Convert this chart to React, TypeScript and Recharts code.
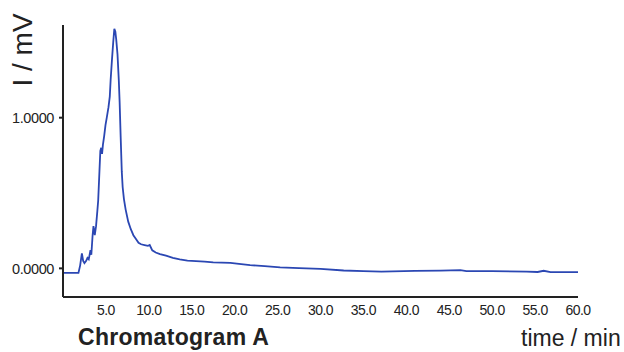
import React from 'react';
import { LineChart, Line, XAxis, YAxis } from 'recharts';

// retention time (min) and detector signal (mV)
const times = [
  0, 1.8, 2.0, 2.2, 2.35, 2.5, 2.7, 2.85, 3.0, 3.2, 3.3, 3.45, 3.55, 3.7, 3.85, 4.0, 4.1, 4.25, 4.35, 4.45,
  4.55, 4.65, 4.8, 4.95, 5.1, 5.3, 5.45, 5.55, 5.7, 5.85, 5.98, 6.1, 6.2, 6.35, 6.5, 6.6, 6.72, 6.85, 6.95,
  7.1, 7.3, 7.6, 7.9, 8.2, 8.5, 8.8, 9.1, 9.5, 9.9, 10.1, 10.4, 10.8, 11.3, 12.0, 12.8, 13.6, 14.5, 15.5,
  16.5, 17.5, 18.5, 19.5, 20.5, 21.8, 23.5, 25.3, 27.5, 30.0, 32.7, 35.0, 37.1, 41.0, 44.0, 46.3, 47.0,
  50.0, 54.0, 55.3, 56.0, 56.8, 60.0,
];
const signal = [
  -0.03, -0.03, 0.02, 0.1, 0.05, 0.035, 0.05, 0.07, 0.06, 0.12, 0.09, 0.22, 0.28, 0.22, 0.28, 0.38, 0.45,
  0.65, 0.78, 0.8, 0.76, 0.82, 0.88, 0.95, 1.0, 1.07, 1.14, 1.25, 1.38, 1.5, 1.59, 1.57, 1.52, 1.42, 1.25,
  1.1, 0.87, 0.64, 0.54, 0.46, 0.39, 0.31, 0.26, 0.22, 0.195, 0.17, 0.16, 0.155, 0.15, 0.155, 0.12, 0.105,
  0.095, 0.085, 0.07, 0.06, 0.052, 0.048, 0.045, 0.04, 0.038, 0.036, 0.03, 0.022, 0.015, 0.007, 0.002,
  -0.004, -0.014, -0.018, -0.022, -0.017, -0.015, -0.012, -0.018, -0.018, -0.022, -0.024, -0.016, -0.025,
  -0.025,
];

const xTicks = [5, 10, 15, 20, 25, 30, 35, 40, 45, 50, 55, 60];
const yTicks = [0, 1];

const data = times.map((t, i) => ({ t, v: signal[i] }));

const font = 'Liberation Sans, Arial, sans-serif';
const axisColor = '#222';

export default function App() {
  return (
    <div style={{ position: 'absolute', left: 0, top: 0, width: 624, height: 352, fontFamily: font, background: '#fff' }}>
      <LineChart width={624} height={352} data={data} margin={{ top: 25, right: 46, bottom: 25, left: 0 }}>
        <XAxis
          type="number"
          dataKey="t"
          domain={[0, 60]}
          ticks={xTicks}
          tickFormatter={(v: number) => v.toFixed(1)}
          tickLine={false}
          tickMargin={2}
          height={30}
          axisLine={{ stroke: axisColor, strokeWidth: 2 }}
          tick={{ fill: '#222', fontSize: 14, fontFamily: font, letterSpacing: -0.5 }}
          allowDataOverflow
        />
        <YAxis
          type="number"
          domain={[-0.19, 1.615]}
          ticks={yTicks}
          tickFormatter={(v: number) => v.toFixed(4)}
          width={63}
          tickSize={4}
          tickMargin={5}
          tickLine={{ stroke: axisColor, strokeWidth: 2 }}
          axisLine={{ stroke: axisColor, strokeWidth: 2 }}
          tick={{ fill: '#222', fontSize: 14.5, fontFamily: font, letterSpacing: -0.4 }}
          allowDataOverflow
        />
        <Line
          type="linear"
          dataKey="v"
          stroke="#2b47b3"
          strokeWidth={1.8}
          dot={false}
          isAnimationActive={false}
        />
      </LineChart>
      <div
        style={{
          position: 'absolute', left: 23, top: 50, transform: 'translate(-50%, -50%) rotate(-90deg)',
          fontSize: 28, color: '#222', whiteSpace: 'nowrap', lineHeight: 1,
        }}
      >
        I / mV
      </div>
      <div style={{ position: 'absolute', left: 78, top: 326, fontSize: 23, fontWeight: 700, color: '#222', lineHeight: 1, letterSpacing: 0.3 }}>
        Chromatogram A
      </div>
      <div style={{ position: 'absolute', left: 521, top: 327, fontSize: 23, color: '#222', lineHeight: 1 }}>
        time / min
      </div>
    </div>
  );
}
